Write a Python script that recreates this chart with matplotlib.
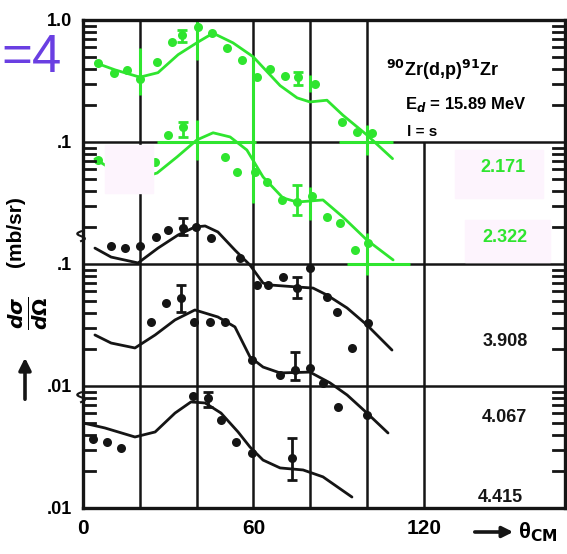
import numpy as np
import matplotlib.pyplot as plt
from matplotlib.patches import Rectangle
from matplotlib.ticker import FixedLocator, FixedFormatter, NullLocator

plt.rcParams['font.family'] = ['Liberation Sans', 'DejaVu Sans']
plt.rcParams['font.weight'] = 'bold'

GREEN = '#2fe52f'
INK = '#151515'
W, H = 567, 554

# --- curves (values as drawn on the stacked log axis) ---
# 2.171 MeV
fit_a_x = [4.6, 11.3, 20, 26.4, 33.5, 40.5, 45.8, 52.8, 59.9, 69.4, 75.4, 79.9, 85.9, 91.5, 100, 109]
fit_a_y = [0.444, 0.39, 0.34, 0.37, 0.52, 0.66, 0.78, 0.65, 0.50, 0.29, 0.23, 0.213, 0.22, 0.166, 0.114, 0.073]
pts_a_x = [5.3, 10.9, 15.5, 20.1, 26.1, 31.3, 34.9, 40.5, 45.4, 50.7, 56, 61.3, 65.8, 71.1, 75.7, 81.7, 91.2, 96.5, 101.8]
pts_a_y = [0.44, 0.37, 0.39, 0.33, 0.45, 0.66, 0.75, 0.88, 0.78, 0.59, 0.47, 0.34, 0.40, 0.35, 0.34, 0.30, 0.146, 0.121, 0.119]
err_a_x = [34.9, 75.7]
err_a_lo = [0.66, 0.293]
err_a_hi = [0.83, 0.375]

# 2.322 MeV
fit_b_x = [4.2, 10.6, 20.1, 26.1, 33.1, 40.1, 45.8, 51.8, 57.7, 63.4, 70.4, 75.4, 84.5, 91.5, 100, 109.2]
fit_b_y = [0.0726, 0.059, 0.0507, 0.0557, 0.0754, 0.104, 0.119, 0.11, 0.086, 0.0517, 0.0348, 0.0322, 0.0335, 0.0243, 0.0157, 0.0108]
pts_b_x = [5.3, 9.9, 15.1, 20.1, 25.4, 30, 35.2, 50, 54.2, 60.6, 64.8, 70.1, 75.4, 80.6, 85.9, 90.5, 95.8, 100.4]
pts_b_y = [0.0712, 0.0557, 0.0507, 0.0526, 0.0686, 0.114, 0.133, 0.0754, 0.0568, 0.0568, 0.047, 0.0335, 0.0322, 0.036, 0.0243, 0.0217, 0.013, 0.0149]
err_b_x = [35.2, 75.4]
err_b_lo = [0.11, 0.0252]
err_b_hi = [0.146, 0.0444]

# 3.908 MeV
fit_c_x = [4.2, 9.9, 19.4, 26.4, 33.5, 39.4, 43, 47.5, 53.5, 58.8, 63.4, 65.8, 75.4, 81, 85.9, 93, 100, 108.8]
fit_c_y = [0.0135, 0.0114, 0.0102, 0.0135, 0.0173, 0.0201, 0.0205, 0.0183, 0.013, 0.0098, 0.00698, 0.00673, 0.00648, 0.00635, 0.00557, 0.00436, 0.00316, 0.00197]
pts_c_x = [9.9, 14.8, 20.1, 25.7, 29.9, 35.2, 39.8, 45.1, 55.3, 61.3, 65.1, 70.4, 75.4, 79.9, 85.9, 89.4, 94.7, 100.4]
pts_c_y = [0.0141, 0.0135, 0.0141, 0.0166, 0.019, 0.0197, 0.0201, 0.0163, 0.0112, 0.00673, 0.00673, 0.00782, 0.00635, 0.00927, 0.00537, 0.00404, 0.00205, 0.00328]
err_c_x = [35.2, 75.4]
err_c_lo = [0.0173, 0.00526]
err_c_hi = [0.0238, 0.00782]

# 4.067 MeV
fit_d_x = [4.2, 9.9, 18.3, 25.4, 32.4, 39.4, 47.5, 53.5, 58.8, 63.4, 69.4, 79.9, 87, 93, 100, 107.4]
fit_d_y = [0.00262, 0.00225, 0.00205, 0.00262, 0.00348, 0.0042, 0.00368, 0.00305, 0.00173, 0.00143, 0.00128, 0.0013, 0.00106, 0.000844, 0.0006, 0.000412]
pts_d_x = [23.9, 29.2, 34.5, 39.1, 44.7, 50, 59.5, 69.4, 74.6, 79.9, 84.5, 89.8, 100]
pts_d_y = [0.00335, 0.00479, 0.00526, 0.00335, 0.00335, 0.00335, 0.00163, 0.00123, 0.00135, 0.0014, 0.00106, 0.000673, 0.000578]
err_d_x = [34.5, 74.6]
err_d_lo = [0.00404, 0.00112]
err_d_hi = [0.00673, 0.0019]

# 4.415 MeV
fit_e_x = [0, 7.7, 18.3, 25.4, 32.4, 38, 43, 48.6, 54.6, 58.8, 63.4, 69.4, 77.5, 84.5, 94.7]
fit_e_y = [0.000498, 0.000453, 0.000382, 0.00042, 0.0006, 0.00074, 0.000726, 0.0006, 0.00042, 0.000316, 0.000247, 0.000213, 0.000205, 0.00018, 0.000123]
pts_e_x = [3.5, 8.5, 13.4, 38.7, 44, 48.6, 53.9, 59.5, 73.6]
pts_e_y = [0.000368, 0.000348, 0.00031, 0.000828, 0.000797, 0.000526, 0.000348, 0.000282, 0.000257]
err_e_x = [44, 73.6]
err_e_lo = [0.000673, 0.00017]
err_e_hi = [0.000893, 0.000375]

# green re-colouring of grid lines near the coloured curves
green_v = [(20, 0.243, 0.59), (20, 0.039, 0.078), (40, 0.47, 1.0), (40, 0.071, 0.151),
           (60, 0.0316, 0.49), (80, 0.257, 0.354), (80, 0.023, 0.0428),
           (100, 0.078, 0.138), (100, 0.0081, 0.018)]
green_h = [(0.1, 26, 61), (0.1, 90, 109), (0.01, 93, 115)]

states = ['2.171', '2.322', '3.908', '4.067', '4.415']

fig = plt.figure(figsize=(W / 100, H / 100), dpi=100)
ax = fig.add_axes([83 / W, 46 / H, 482 / W, 488 / H])
ax.set_yscale('log')
ax.set_xlim(0, 482 / 2.84)
ax.set_ylim(1e-4, 1.0)

# pale pink smudges from the colouring
for (x0, y0, w, h) in [(105, 145, 48, 48), (455, 150, 88, 48), (465, 220, 85, 42)]:
    fig.patches.append(Rectangle((x0 / W, 1 - (y0 + h) / H), w / W, h / H,
                                 transform=fig.transFigure, color='#fdf4fd', zorder=0))

# grid
for gx in [20, 40, 60, 80, 100]:
    ax.axvline(gx, color=INK, lw=1.8, zorder=1)
ax.vlines(120, 1e-4, 0.1, color=INK, lw=1.8, zorder=1)
for gy in [0.1, 0.01, 0.001]:
    ax.axhline(gy, color=INK, lw=1.8, zorder=1)
for gx, y0, y1 in green_v:
    ax.vlines(gx, y0, y1, color=GREEN, lw=2.2, zorder=2)
for gy, x0, x1 in green_h:
    ax.hlines(gy, x0, x1, color=GREEN, lw=2.2, zorder=2)

# inward log sub-decade ticks on both vertical edges
minor_pos = [k * 10.0 ** d for d in range(-4, 0) for k in range(2, 10)]
for p in minor_pos:
    ax.axhline(p, xmin=0, xmax=0.025, color=INK, lw=2.0, zorder=5)
    ax.axhline(p, xmin=0.975, xmax=1, color=INK, lw=2.0, zorder=5)

sets = [
    (fit_a_x, fit_a_y, pts_a_x, pts_a_y, err_a_x, err_a_lo, err_a_hi, GREEN),
    (fit_b_x, fit_b_y, pts_b_x, pts_b_y, err_b_x, err_b_lo, err_b_hi, GREEN),
    (fit_c_x, fit_c_y, pts_c_x, pts_c_y, err_c_x, err_c_lo, err_c_hi, INK),
    (fit_d_x, fit_d_y, pts_d_x, pts_d_y, err_d_x, err_d_lo, err_d_hi, INK),
    (fit_e_x, fit_e_y, pts_e_x, pts_e_y, err_e_x, err_e_lo, err_e_hi, INK),
]
for fx, fy, px, py, ex, elo, ehi, col in sets:
    ax.plot(fx, fy, color=col, lw=2.0, solid_capstyle='round', solid_joinstyle='round', zorder=3)
    ax.plot(px, py, 'o', color=col, ms=6.5, mec='none', zorder=4)
    ax.vlines(ex, elo, ehi, color=col, lw=2.0, zorder=4)
    ax.plot(ex, elo, '_', color=col, ms=7, mew=2, zorder=4)
    ax.plot(ex, ehi, '_', color=col, ms=7, mew=2, zorder=4)

# axes styling
for s in ax.spines.values():
    s.set_linewidth(2.4)
    s.set_color(INK)
ax.yaxis.set_major_locator(FixedLocator([1e-4, 1e-3, 1e-2, 1e-1, 1.0]))
ax.yaxis.set_major_formatter(FixedFormatter(['.01', '.01', '.1', '.1', '1.0']))
ax.yaxis.set_minor_locator(NullLocator())
ax.tick_params(axis='y', which='major', length=0, pad=8, labelsize=13)
ax.set_xticks([0, 60, 120])
ax.set_xticklabels(['0', '60', '120'])
ax.tick_params(axis='x', length=0, pad=8, labelsize=15)

# left broken-axis marks
for yb in [0.557, 0.227]:
    t = np.linspace(0, 1, 20)
    ax.plot(-0.004 + 0.008 * np.sin(t * 2 * np.pi), yb + 0.02 * (t - 0.5), color=INK, lw=1.5,
            transform=ax.transAxes, clip_on=False, zorder=6)

# texts
fig.text(1 / W, 1 - 58 / H, '=4', color='#6a3fe2', fontsize=38, fontweight='normal',
         ha='left', va='center')
fig.text(386 / W, 1 - 70 / H, r'$^{90}$Zr(d,p)$^{91}$Zr', fontsize=13, ha='left', va='center')
fig.text(405 / W, 1 - 104 / H, r'E$_{d}$ = 15.89 MeV', fontsize=12, ha='left', va='center')
fig.text(407 / W, 1 - 132 / H, 'l = s', fontsize=11, ha='left', va='center')

label_pos = [(503, 168, GREEN), (505, 238, GREEN), (505, 341, INK), (504, 418, INK), (500, 498, INK)]
for lab, (lx, ly, col) in zip(states, label_pos):
    fig.text(lx / W, 1 - ly / H, lab, color=col, fontsize=13, ha='center', va='center')

fig.text(15 / W, 1 - 232 / H, '(mb/sr)', rotation=90, fontsize=15, ha='center', va='center')
fig.text(28 / W, 1 - 313 / H, r'$\frac{d\sigma}{d\Omega}$', rotation=90, fontsize=21, ha='center', va='center')
ax.annotate('', xy=(25 / W, 1 - 355 / H), xytext=(25 / W, 1 - 402 / H), xycoords='figure fraction',
            arrowprops=dict(arrowstyle='-|>', lw=2.6, color=INK, mutation_scale=18))
ax.annotate('', xy=(516 / W, 1 - 532 / H), xytext=(472 / W, 1 - 532 / H), xycoords='figure fraction',
            arrowprops=dict(arrowstyle='-|>', lw=2.6, color=INK, mutation_scale=16))
fig.text(518 / W, 1 - 532 / H, r'θ$_{\mathrm{CM}}$', fontsize=16, ha='left', va='center')

fig.savefig('out.png', dpi=100)
